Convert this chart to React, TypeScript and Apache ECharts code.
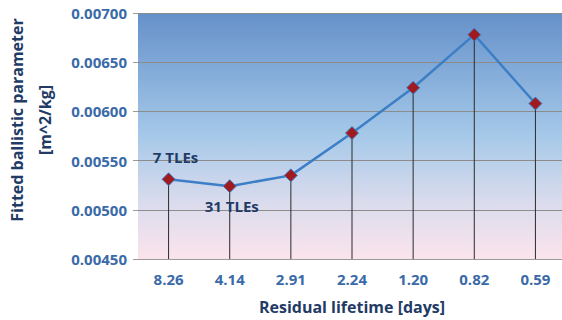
import React, { useEffect, useRef } from "react";
import * as echarts from "echarts";

const categories = ["8.26", "4.14", "2.91", "2.24", "1.20", "0.82", "0.59"];
const ballistic = [0.00531, 0.00524, 0.00535, 0.00578, 0.00624, 0.00678, 0.00608];
const pointNotes = ["7 TLEs", "31 TLEs", "", "", "", "", ""];
const yMin = 0.0045;
const yMax = 0.007;
const yStep = 0.0005;

export default function App() {
  const ref = useRef<HTMLDivElement>(null);
  useEffect(() => {
    if (!ref.current) return;
    const chart = echarts.init(ref.current, undefined, { renderer: "svg" });
    const font = "'Open Sans', 'Noto Sans', sans-serif";
    chart.setOption({
      animation: false,
      grid: {
        left: 138,
        right: -4,
        top: 13,
        bottom: 61,
        outerBoundsMode: "none",
        containLabel: false,
        show: true,
        borderWidth: 0,
        backgroundColor: new echarts.graphic.LinearGradient(0, 0, 0, 1, [
          { offset: 0, color: "#6591CA" },
          { offset: 0.5, color: "#a6c9e9" },
          { offset: 0.78, color: "#dcdced" },
          { offset: 1, color: "#fbe4ec" },
        ]),
      },
      xAxis: {
        type: "category",
        data: categories,
        boundaryGap: true,
        axisLine: { show: true, lineStyle: { color: "#9a9a9a", width: 1 } },
        axisTick: { show: false },
        axisLabel: {
          color: "#3a6aa8",
          fontFamily: font,
          fontWeight: "bold",
          fontSize: 15,
          margin: 12,
        },
        name: "Residual lifetime [days]",
        nameLocation: "middle",
        nameGap: 40,
        nameTextStyle: {
          color: "#1f3b66",
          fontFamily: font,
          fontWeight: "bold",
          fontSize: 16,
        },
      },
      yAxis: {
        type: "value",
        min: yMin,
        max: yMax,
        interval: yStep,
        axisLine: { show: false },
        axisTick: { show: true, length: 5, lineStyle: { color: "#9a9a9a" } },
        splitLine: { show: true, lineStyle: { color: "#8c8c8c", width: 1 } },
        axisLabel: {
          color: "#3a6aa8",
          fontFamily: font,
          fontWeight: "bold",
          fontSize: 15,
          margin: 11,
          formatter: (v: number) => v.toFixed(5),
        },
      },
      graphic: [
        {
          type: "text",
          x: 31,
          y: 120,
          rotation: Math.PI / 2,
          style: {
            text: "Fitted ballistic parameter\n[m^2/kg]",
            fill: "#1f3b66",
            font: `bold 16px ${font}`,
            textAlign: "center",
            textVerticalAlign: "middle",
            lineHeight: 28,
          },
        },
      ],
      series: [
        {
          type: "bar",
          data: ballistic,
          barWidth: 1,
          itemStyle: { color: "#2b2b2b" },
          silent: true,
          z: 1,
        },
        {
          type: "line",
          data: ballistic.map((v, i) => ({
            value: v,
            label: {
              show: pointNotes[i] !== "",
              formatter: pointNotes[i],
              position: i === 0 ? "top" : "bottom",
              distance: i === 0 ? 8 : 5,
              offset: i === 0 ? [7, 0] : [2, 0],
              color: "#1f3b66",
              fontFamily: font,
              fontWeight: "bold",
              fontSize: 15,
            },
          })),
          symbol: "diamond",
          symbolSize: 13,
          lineStyle: { color: "#3d7fc6", width: 2.5 },
          itemStyle: { color: "#a01a1e", borderColor: "#3d7fc6", borderWidth: 1 },
          z: 3,
        },
      ],
    });
    return () => chart.dispose();
  }, []);
  return (
    <div
      ref={ref}
      style={{ position: "absolute", left: 0, top: 0, width: 562, height: 320 }}
    />
  );
}
